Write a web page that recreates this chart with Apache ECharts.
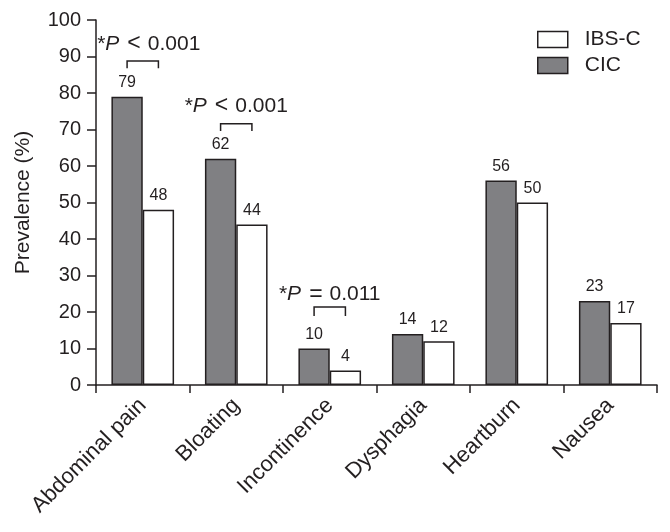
<!DOCTYPE html>
<html>
<head>
<meta charset="utf-8">
<script src="https://cdn.jsdelivr.net/npm/echarts@6/dist/echarts.min.js"></script>
<style>
html,body{margin:0;padding:0;background:#fff;}
#chart{width:670px;height:532px;}
</style>
</head>
<body>
<div id="chart"></div>
<script>
var categories = ['Abdominal pain', 'Bloating', 'Incontinence', 'Dysphagia', 'Heartburn', 'Nausea'];
var cicValues = [79, 62, 10, 14, 56, 23];
var ibscValues = [48, 44, 4, 12, 50, 17];
var yTicks = [0, 10, 20, 30, 40, 50, 60, 70, 80, 90, 100];
// significance brackets
var sigCategory = [0, 1, 2];
var sigBracketY = [88.8, 71.6, 21.4];
var sigTickEndY = [86.8, 69.6, 18.9];
var sigTextY = [93.4, 76.4, 24.8];
var sigOperator = ['<', '<', '='];
var sigP = ['0.001', '0.001', '0.011'];

var FONT = 'Liberation Sans, Arial, Helvetica, sans-serif';
var INK = '#231f20';
var GRAY = '#808083';
var CAT_GAP = 0.33;

var sigData = sigCategory.map(function (c, i) {
  return [c, sigBracketY[i], sigTickEndY[i], sigTextY[i], i];
});

var chart = echarts.init(document.getElementById('chart'), null, {renderer: 'canvas'});
chart.setOption({
  animation: false,
  backgroundColor: '#ffffff',
  textStyle: {fontFamily: FONT, color: INK},
  grid: {left: 96, right: 13, top: 20, bottom: 147},
  legend: {
    orient: 'vertical',
    left: 537,
    top: 29,
    padding: 0,
    itemWidth: 30,
    itemHeight: 16,
    itemGap: 5,
    icon: 'rect',
    data: [
      {name: 'IBS-C', icon: 'rect', itemStyle: {color: '#ffffff', borderColor: INK, borderWidth: 1.5}},
      {name: 'CIC', icon: 'rect', itemStyle: {color: GRAY, borderColor: INK, borderWidth: 1.5}}
    ],
    textStyle: {fontSize: 21, color: INK, fontFamily: FONT, padding: [0, 0, 0, 12]}
  },
  xAxis: {
    type: 'category',
    data: categories,
    axisLine: {lineStyle: {color: INK, width: 1.5}},
    axisTick: {show: true, length: 8, lineStyle: {color: INK, width: 1.5}},
    axisLabel: {rotate: 45, fontSize: 22, color: INK, margin: 17, fontFamily: FONT, interval: 0}
  },
  yAxis: {
    type: 'value',
    min: 0, max: 100, interval: 10,
    name: 'Prevalence (%)',
    nameLocation: 'middle',
    nameGap: 62,
    nameTextStyle: {fontSize: 21, color: INK, fontFamily: FONT},
    axisLine: {show: true, lineStyle: {color: INK, width: 1.5}},
    axisTick: {show: true, length: 9, lineStyle: {color: INK, width: 1.5}},
    axisLabel: {fontSize: 20, color: INK, margin: 15, fontFamily: FONT,
      formatter: function (v) { return yTicks.indexOf(v) >= 0 ? String(v) : ''; }},
    splitLine: {show: false}
  },
  series: [
    {
      name: 'CIC',
      type: 'bar',
      data: cicValues,
      barGap: '0%',
      barCategoryGap: (CAT_GAP * 100) + '%',
      itemStyle: {color: GRAY, borderColor: INK, borderWidth: 1.5},
      label: {show: true, position: 'top', distance: 6, fontSize: 16, color: INK, fontFamily: FONT}
    },
    {
      name: 'IBS-C',
      type: 'bar',
      data: ibscValues,
      barGap: '0%',
      barCategoryGap: (CAT_GAP * 100) + '%',
      itemStyle: {color: '#ffffff', borderColor: INK, borderWidth: 1.5},
      label: {show: true, position: 'top', distance: 6, fontSize: 16, color: INK, fontFamily: FONT}
    },
    {
      name: 'sig',
      type: 'custom',
      silent: true,
      z: 5,
      data: sigData,
      renderItem: function (params, api) {
        var c = api.value(0);
        var center = api.coord([c, api.value(1)]);
        var band = api.size([1, 0])[0];
        var bw = band * (1 - CAT_GAP) / 2;
        var yB = center[1];
        var yE = api.coord([c, api.value(2)])[1];
        var yT = api.coord([c, api.value(3)])[1];
        var x1 = center[0] - bw / 2, x2 = center[0] + bw / 2;
        var i = api.value(4);
        return {
          type: 'group',
          children: [
            {
              type: 'polyline',
              shape: {points: [[x1, yE], [x1, yB], [x2, yB], [x2, yE]]},
              style: {stroke: INK, lineWidth: 1.5, fill: null}
            },
            {
              type: 'text',
              x: center[0] + (i === 0 ? 6 : 0), y: yT,
              style: {
                text: '{n|*}{i|P}{o|' + sigOperator[i] + '}{n|' + sigP[i] + '}',
                align: 'center', verticalAlign: 'middle',
                rich: {
                  n: {fontSize: 21, fontFamily: FONT, fill: INK},
                  i: {fontSize: 21, fontFamily: FONT, fontStyle: 'italic', fill: INK},
                  o: {fontSize: 23, fontFamily: FONT, fill: INK, padding: [0, 7, 0, 8]}
                }
              }
            }
          ]
        };
      }
    }
  ]
});
</script>
</body>
</html>
